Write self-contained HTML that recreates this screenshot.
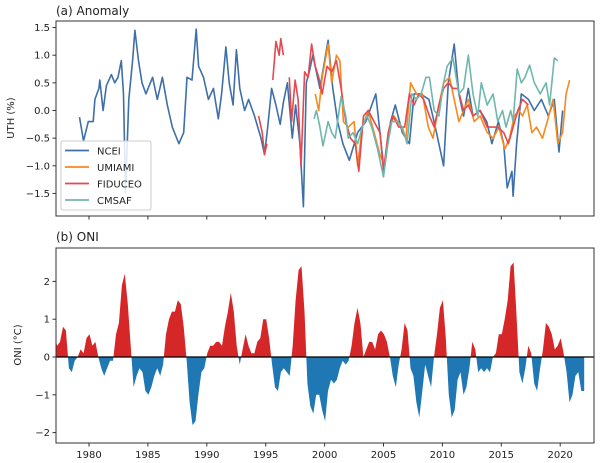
<!DOCTYPE html>
<html><head><meta charset="utf-8"><style>
body{margin:0;background:#fff}
svg{display:block;font-family:"DejaVu Sans","Liberation Sans",sans-serif}
</style></head><body>
<svg id="chart" width="600" height="463" viewBox="0 0 600 463" xmlns="http://www.w3.org/2000/svg"></svg>
<script>
// ---- data ----
const ncei_t=[1979.19,1979.53,1979.94,1980.36,1980.5,1980.84,1980.92,1981.2,1981.48,1981.9,1982.18,1982.46,1982.74,1982.93,1983.1,1983.38,1983.7,1983.9,1984.2,1984.5,1984.83,1985.4,1985.8,1986.23,1986.65,1987.07,1987.63,1988.04,1988.32,1988.74,1989.1,1989.3,1989.72,1990.14,1990.56,1990.98,1991.26,1991.62,1991.9,1992.23,1992.51,1992.8,1993.21,1993.55,1994.05,1994.6,1994.9,1995.17,1995.5,1995.87,1996.23,1996.5,1996.84,1997.26,1997.54,1997.9,1998.2,1998.45,1998.7,1999.0,1999.3,1999.6,2000.3,2000.7,2001.1,2001.55,2002.1,2002.8,2003.5,2004.35,2005.05,2005.6,2006.0,2006.6,2007.2,2007.6,2008.15,2008.85,2009.4,2010.1,2010.5,2011.0,2011.4,2011.8,2012.2,2012.6,2013.2,2013.76,2014.2,2014.75,2015.2,2015.5,2015.9,2016.0,2016.3,2016.7,2017.3,2017.8,2018.4,2019.0,2019.5,2019.9,2020.2];
const ncei_v=[-0.12,-0.55,-0.2,-0.2,0.2,0.4,0.55,0.0,0.45,0.65,0.5,0.6,0.9,0.3,-1.5,0.2,0.9,1.45,0.9,0.5,0.3,0.6,0.2,0.6,0.1,-0.3,-0.6,-0.4,0.6,0.55,1.47,0.8,0.6,0.2,0.4,-0.15,0.3,1.15,0.5,0.1,1.1,0.4,0.0,0.2,-0.1,-0.5,-0.8,-0.3,0.4,0.1,-0.25,0.15,0.5,-0.5,0.1,-0.6,-1.74,0.5,0.7,1.0,0.7,0.4,1.27,0.4,-0.2,-0.6,-0.9,-0.4,-0.2,0.3,-1.1,-0.2,0.1,-0.4,-0.6,0.3,0.3,0.2,-0.3,-1.0,0.5,1.2,0.3,-0.1,0.4,-0.1,0.0,-0.2,-0.6,-0.2,-0.6,-1.4,-1.1,-1.55,-0.6,0.3,0.2,0.0,0.2,-0.1,0.2,-0.75,0.0];
const umiami_t=[1999.2,1999.5,1999.8,2000.3,2000.6,2001.0,2001.3,2001.6,2002.0,2002.5,2002.8,2003.2,2003.7,2004.2,2004.7,2005.1,2005.5,2005.9,2006.5,2006.9,2007.3,2007.8,2008.3,2008.8,2009.2,2009.7,2010.1,2010.6,2011.0,2011.4,2011.8,2012.2,2012.7,2013.2,2013.8,2014.3,2014.8,2015.3,2015.7,2016.1,2016.5,2016.8,2017.2,2017.6,2018.0,2018.5,2018.9,2019.4,2019.8,2020.2,2020.5,2020.8];
const umiami_v=[0.3,0.0,0.6,1.2,0.5,1.0,0.9,-0.2,-0.3,-0.2,-1.0,-0.3,0.0,-0.4,-0.8,-1.0,-0.3,-0.1,-0.3,-0.5,0.5,0.3,0.3,-0.3,-0.5,0.1,0.5,0.6,0.2,-0.2,0.0,0.2,-0.2,-0.1,-0.4,-0.5,-0.3,-0.7,-0.5,-0.1,0.0,-0.1,0.1,-0.4,-0.3,-0.5,-0.2,0.2,-0.6,-0.4,0.3,0.55];
const fid1_t=[1994.4,1994.7,1994.9,1995.1];
const fid1_v=[-0.1,-0.4,-0.8,-0.6];
const fid2_t=[1995.6,1995.87,1996.15,1996.28,1996.5];
const fid2_v=[0.55,1.25,1.0,1.3,1.0];
const fid3_t=[1997.0,1997.2,1997.5,1997.75,1998.0,1998.3,1998.6,1998.9,1999.2,1999.5,1999.8,2000.2,2000.6,2001.0,2001.4,2001.8,2002.2,2002.6,2002.9,2003.3,2003.7,2004.2,2004.7,2005.0,2005.4,2005.8,2006.3,2006.8,2007.2,2007.6,2008.0,2008.4,2008.9,2009.3,2009.7,2010.1,2010.5,2010.9,2011.3,2011.8,2012.2,2012.6,2013.2,2013.8,2014.3,2014.7,2015.2,2015.6,2016.0,2016.4,2016.8,2017.3];
const fid3_v=[0.6,-0.2,0.55,0.2,-1.0,0.7,0.6,1.2,0.8,0.6,0.3,0.8,0.7,0.9,0.4,-0.2,-0.5,-0.6,-1.1,-0.1,0.0,-0.2,-0.4,-1.1,-0.4,-0.1,-0.3,-0.3,0.3,0.1,0.3,0.2,-0.1,-0.3,0.1,0.4,0.5,0.4,0.4,0.0,0.1,-0.1,0.0,-0.3,-0.3,-0.3,-0.4,-0.6,-0.3,0.0,0.2,0.1];
const cmsaf_t=[1999.1,1999.3,1999.6,1999.86,2000.3,2000.6,2000.9,2001.4,2001.8,2002.0,2002.4,2002.8,2003.2,2003.6,2004.0,2004.5,2005.0,2005.3,2005.7,2006.2,2006.6,2007.0,2007.4,2007.8,2008.2,2008.6,2008.9,2009.3,2009.7,2010.1,2010.4,2010.9,2011.4,2011.8,2012.2,2012.6,2013.0,2013.3,2013.8,2014.3,2014.7,2015.1,2015.4,2015.8,2016.0,2016.35,2016.7,2017.0,2017.4,2017.8,2018.3,2018.8,2019.1,2019.5,2019.8];
const cmsaf_v=[-0.15,0.0,-0.3,-0.64,-0.2,-0.4,-0.5,0.25,-0.1,-0.5,-0.4,-0.6,-0.3,-0.1,-0.3,-0.7,-1.2,-0.7,-0.2,-0.2,-0.3,-0.6,0.3,0.2,0.3,0.6,0.6,0.0,-0.1,0.5,0.8,0.95,0.3,0.4,1.0,0.3,-0.1,0.5,0.1,0.3,-0.2,0.0,-0.3,0.0,-0.2,0.75,0.5,0.6,0.82,0.5,0.3,0.5,0.1,0.95,0.9];
const oni_start=1977.04;
const oni_v=[0.6,0.3,0.4,0.8, 0.7,-0.3,-0.4,-0.1, 0.0,0.2,0.1,0.5, 0.6,0.3,0.4,0.0, -0.3,-0.5,-0.3,-0.1, -0.1,0.6,0.9,1.9, 2.2,1.4,0.3,-0.8, -0.5,-0.3,-0.4,-0.9, -1.0,-0.8,-0.5,-0.3, -0.5,-0.2,0.6,1.0, 1.2,1.2,1.5,1.4, 0.8,-0.1,-1.2,-1.8, -1.7,-1.0,-0.4,-0.3, 0.1,0.3,0.3,0.4, 0.4,0.3,0.8,1.2, 1.7,1.2,0.3,-0.2, 0.2,0.6,0.3,0.1, 0.1,0.4,0.5,1.0, 1.0,0.5,-0.2,-0.8, -0.9,-0.4,-0.3,-0.4, -0.5,0.3,1.5,2.3, 2.4,1.2,-0.7,-1.3, -1.5,-1.0,-1.0,-1.4, -1.7,-0.9,-0.6,-0.7, -0.6,-0.3,-0.1,-0.2, -0.1,0.3,0.9,1.3, 0.9,0.0,0.2,0.4, 0.4,0.2,0.6,0.7, 0.6,0.4,0.0,-0.5, -0.8,-0.2,0.2,0.9, 0.7,-0.3,-0.5,-1.2, -1.6,-0.9,-0.2,-0.5, -0.8,0.0,0.6,1.3, 1.5,0.5,-1.0,-1.6, -1.4,-0.6,-0.4,-1.0, -0.8,-0.3,0.4,0.2, -0.4,-0.3,-0.4,-0.3, -0.4,0.0,0.1,0.6, 0.6,1.0,1.5,2.4, 2.5,1.1,-0.4,-0.7, -0.3,0.3,0.1,-0.7, -0.9,-0.3,0.2,0.9, 0.8,0.6,0.2,0.3, 0.5,0.1,-0.4,-1.2, -1.0,-0.5,-0.4,-0.9, -0.9];
const xTicks=[1980,1985,1990,1995,2000,2005,2010,2015,2020];
const yTicksA=[1.5,1.0,0.5,0.0,-0.5,-1.0,-1.5];
const yTicksB=[2,1,0,-1,-2];

// ---- scales ----
const L=56,R=594;
const x=t=>89+(t-1980)*11.78;
const yA=v=>110.5-v*55.3;
const yB=v=>357-v*37.8;
const NS='http://www.w3.org/2000/svg';
const svg=document.getElementById('chart');
function mk(tag,attrs,parent){const e=document.createElementNS(NS,tag);for(const k in attrs)e.setAttribute(k,attrs[k]);(parent||svg).appendChild(e);return e;}
function txt(s,attrs,parent){const e=mk('text',attrs,parent);e.textContent=s;return e;}

const defs=mk('defs',{});
const cpA=mk('clipPath',{id:'clipA'},defs);mk('rect',{x:L,y:21,width:R-L,height:195},cpA);
const cpPos=mk('clipPath',{id:'clipPos'},defs);mk('rect',{x:L,y:248,width:R-L,height:357-248},cpPos);
const cpNeg=mk('clipPath',{id:'clipNeg'},defs);mk('rect',{x:L,y:357,width:R-L,height:443-357},cpNeg);

// ---- Panel A ----
const gA=mk('g',{'clip-path':'url(#clipA)'});


function line(ts,vs,color,name){
  const p=mk('path',{d:ts.map((t,i)=>(i?'L':'M')+x(t).toFixed(1)+','+yA(vs[i]).toFixed(1)).join(''),fill:'none',stroke:color,'stroke-width':1.6,'stroke-linejoin':'round'},gA);
  
  
}
line(ncei_t,ncei_v,'#3f6fa8','ncei-line');
line(umiami_t,umiami_v,'#f58a1f','umiami-line');
line(fid1_t,fid1_v,'#e5484f','fiduceo-line-1');
line(fid2_t,fid2_v,'#e5484f','fiduceo-line-2');
line(fid3_t,fid3_v,'#e5484f','fiduceo-line-3');
line(cmsaf_t,cmsaf_v,'#6fb7ae','cmsaf-line');

const frameA=mk('rect',{x:L,y:21,width:R-L,height:195,fill:'none',stroke:'#333','stroke-width':1});


yTicksA.forEach(v=>{
  mk('line',{x1:L-3.5,x2:L,y1:yA(v),y2:yA(v),stroke:'#333'});
  const t=txt((v<0?'\u2212':'')+Math.abs(v).toFixed(1),{x:L-6,y:yA(v)+3.5,'font-size':10,'text-anchor':'end',fill:'#222'});
  
  
});
xTicks.forEach(yr=>{mk('line',{x1:x(yr),x2:x(yr),y1:216,y2:219.5,stroke:'#333'});});
const tA=txt('(a)  Anomaly',{x:56,y:15,'font-size':12,fill:'#222'});


const ylA=txt('UTH (%)',{x:0,y:0,'font-size':10,'text-anchor':'middle',fill:'#222',transform:'translate(14,118) rotate(-90)'});



const lg=mk('g',{});


mk('rect',{x:61,y:141,width:90,height:69,rx:2,fill:'#fff','fill-opacity':0.85,stroke:'#ccc'},lg);
[['NCEI','#3f6fa8'],['UMIAMI','#f58a1f'],['FIDUCEO','#e5484f'],['CMSAF','#6fb7ae']].forEach((e,i)=>{
  const g=mk('g',{},lg);
  
  
  const yy=150.5+i*16.5;
  mk('line',{x1:65,x2:89,y1:yy,y2:yy,stroke:e[1],'stroke-width':1.8},g);
  txt(e[0],{x:97,y:yy+4,'font-size':10,fill:'#222'},g);
});

// ---- Panel B ----
const oni_t=oni_v.map((v,i)=>oni_start+i*0.25);
const areaD='M'+x(oni_t[0]).toFixed(1)+','+yB(0)+oni_t.map((t,i)=>'L'+x(t).toFixed(1)+','+yB(oni_v[i]).toFixed(1)).join('')+'L'+x(oni_t[oni_t.length-1]).toFixed(1)+','+yB(0)+'Z';
const pos=mk('path',{d:areaD,fill:'#d62728','clip-path':'url(#clipPos)'});


const neg=mk('path',{d:areaD,fill:'#1f77b4','clip-path':'url(#clipNeg)'});


const zl=mk('line',{x1:L,x2:R,y1:yB(0),y2:yB(0),stroke:'#000','stroke-width':1.2});


const frameB=mk('rect',{x:L,y:248,width:R-L,height:195,fill:'none',stroke:'#333','stroke-width':1});


yTicksB.forEach(v=>{
  mk('line',{x1:L-3.5,x2:L,y1:yB(v),y2:yB(v),stroke:'#333'});
  const t=txt((v<0?'\u2212':'')+Math.abs(v),{x:L-6,y:yB(v)+3.5,'font-size':10,'text-anchor':'end',fill:'#222'});
  
  
});
xTicks.forEach(yr=>{
  mk('line',{x1:x(yr),x2:x(yr),y1:443,y2:446.5,stroke:'#333'});
  const t=txt(String(yr),{x:x(yr),y:458,'font-size':10,'text-anchor':'middle',fill:'#222'});
  
  
});
const tB=txt('(b) ONI',{x:56,y:241,'font-size':12,fill:'#222'});


const ylB=txt('ONI (\u00B0C)',{x:0,y:0,'font-size':10,'text-anchor':'middle',fill:'#222',transform:'translate(21,345) rotate(-90)'});


</script>
</body></html>
